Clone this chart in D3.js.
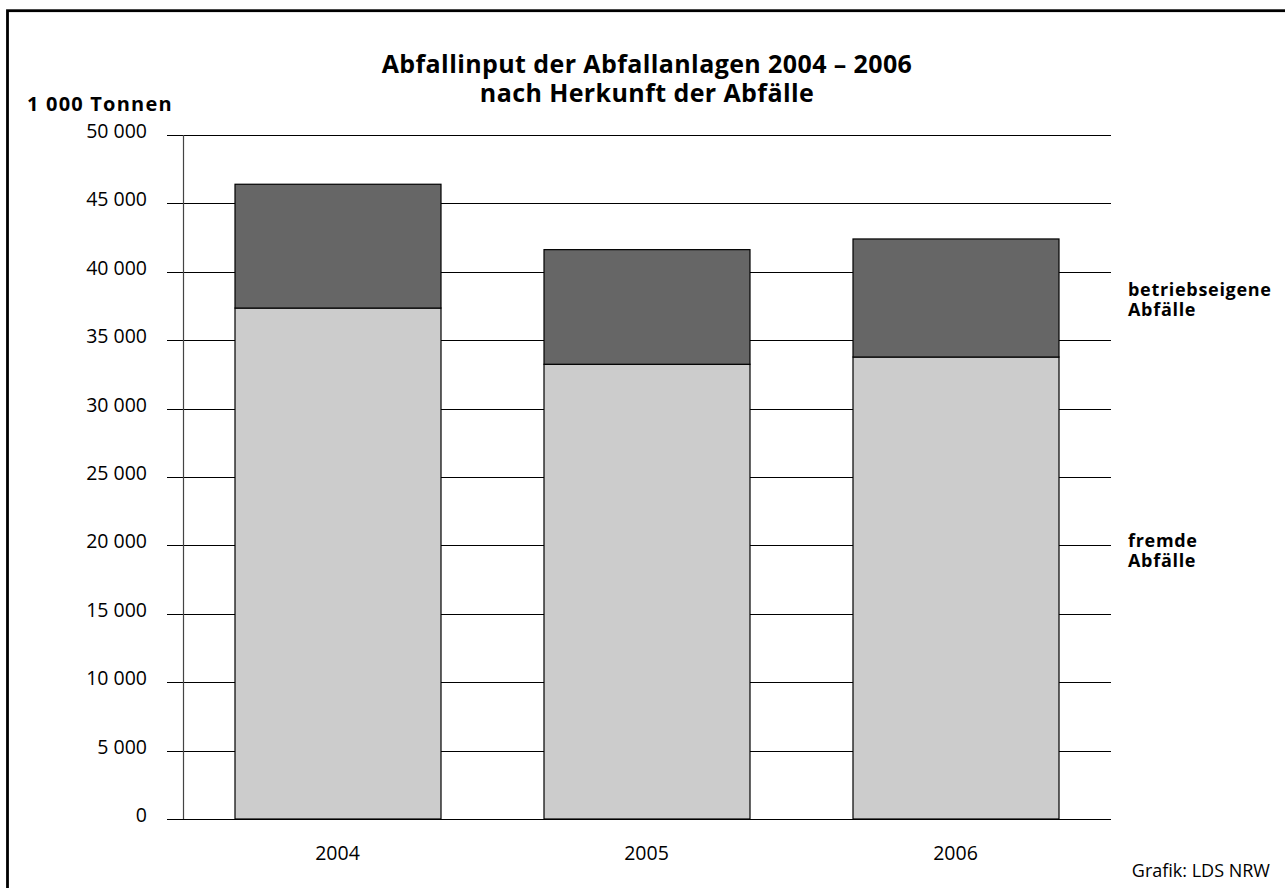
<!DOCTYPE html>
<html><head><meta charset="utf-8">
<script src="https://cdn.jsdelivr.net/npm/d3@7"></script>
<style>body{margin:0;background:#fff;overflow:hidden}svg{display:block}text{font-family:"Open Sans","DejaVu Sans",sans-serif}</style>
</head><body>
<script>
const years = ["2004","2005","2006"];
const fremde = [37350, 33240, 33770];
const betriebseigene = [9050, 8380, 8630];
const yTicks = [0,5000,10000,15000,20000,25000,30000,35000,40000,45000,50000];
const seriesNames = ["fremde Abfälle","betriebseigene Abfälle"];

const W=1285,H=888;
const svg=d3.select("body").append("svg").attr("width",W).attr("height",H);
// frame (only top and left edges visible in the picture)
svg.append("rect").attr("x",7.5).attr("y",10.7).attr("width",1400).attr("height",1000)
  .attr("fill","none").attr("stroke","#000").attr("stroke-width",2.8);

const x=d3.scaleBand().domain(years).range([183,1110]).paddingInner(1/3).paddingOuter(1/6);
const y=d3.scaleLinear().domain([0,50000]).range([819,135]);
const fmt=v=>d3.format(",")(v).replace(/,/g," ");

// grid lines
svg.append("g").selectAll("line").data(yTicks).join("line")
  .attr("x1",167).attr("x2",1111).attr("y1",d=>Math.round(y(d))+0.5).attr("y2",d=>Math.round(y(d))+0.5)
  .attr("stroke","#000").attr("stroke-width",1.2);
// axis line
svg.append("line").attr("x1",183.5).attr("x2",183.5).attr("y1",y(50000)).attr("y2",y(0))
  .attr("stroke","#444").attr("stroke-width",1.2);
// tick labels
svg.append("g").selectAll("text").data(yTicks).join("text")
  .attr("x",147).attr("y",d=>y(d)+3).attr("text-anchor","end").attr("font-size",19.5).text(fmt);

const stackData=years.map((yr,i)=>({yr,f:fremde[i],b:betriebseigene[i]}));
const g=svg.append("g");
g.selectAll("rect.f").data(stackData).join("rect").attr("class","f")
  .attr("x",d=>x(d.yr)+0.5).attr("width",x.bandwidth())
  .attr("y",d=>y(d.f)).attr("height",d=>y(0)-y(d.f))
  .attr("fill","#cccccc").attr("stroke","#000").attr("stroke-width",1.2);
g.selectAll("rect.b").data(stackData).join("rect").attr("class","b")
  .attr("x",d=>x(d.yr)+0.5).attr("width",x.bandwidth())
  .attr("y",d=>y(d.f+d.b)).attr("height",d=>y(d.f)-y(d.f+d.b))
  .attr("fill","#666666").attr("stroke","#000").attr("stroke-width",1.2);

// x labels
svg.append("g").selectAll("text").data(years).join("text")
  .attr("x",d=>x(d)+x.bandwidth()/2).attr("y",860).attr("text-anchor","middle").attr("font-size",19.5).text(d=>d);

// title
svg.append("text").attr("x",647).attr("y",73).attr("text-anchor","middle").attr("font-size",25).attr("font-weight","bold")
  .attr("letter-spacing",0.4).text("Abfallinput der Abfallanlagen 2004 – 2006");
svg.append("text").attr("x",647).attr("y",102).attr("text-anchor","middle").attr("font-size",25).attr("font-weight","bold")
  .attr("letter-spacing",0.4).text("nach Herkunft der Abfälle");
svg.append("text").attr("x",27).attr("y",111).attr("font-size",20).attr("font-weight","bold")
  .attr("letter-spacing",1.2).text("1 000 Tonnen");

// series labels
const lab=[{lines:["betriebseigene","Abfälle"],y:295.5},{lines:["fremde","Abfälle"],y:547}];
lab.forEach(l=>{
  const t=svg.append("text").attr("x",1128).attr("y",l.y).attr("font-size",18).attr("font-weight","bold").attr("letter-spacing",0.7);
  l.lines.forEach((s,i)=>t.append("tspan").attr("x",1128).attr("dy",i?20:0).text(s));
});
svg.append("text").attr("x",1270).attr("y",877).attr("text-anchor","end").attr("font-size",18).text("Grafik: LDS NRW");
</script>
</body></html>
